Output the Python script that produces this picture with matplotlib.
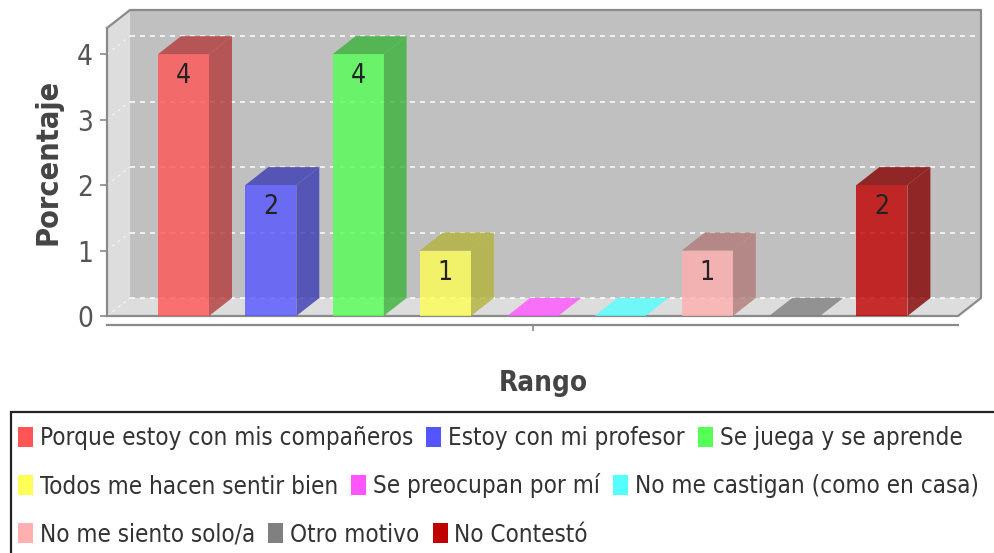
import matplotlib
matplotlib.use("Agg")
import matplotlib.pyplot as plt
from matplotlib.patches import Polygon, Rectangle
from matplotlib.lines import Line2D
from matplotlib.colors import to_rgb

# ---------------- data ----------------
categories = ["Porque estoy con mis compañeros", "Estoy con mi profesor", "Se juega y se aprende",
              "Todos me hacen sentir bien", "Se preocupan por mí", "No me castigan (como en casa)",
              "No me siento solo/a", "Otro motivo", "No Contestó"]
values = [4, 2, 4, 1, 0, 0, 1, 0, 2]
series_colors = ["#FF5555", "#5555FF", "#55FF55", "#FFFF55", "#FF55FF", "#55FFFF",
                 "#FFAFAF", "#808080", "#C00000"]
y_ticks = [0, 1, 2, 3, 4]
x_axis_label = "Rango"
y_axis_label = "Porcentaje"

FONT = dict(family="DejaVu Sans", stretch="condensed")

W, H = 994, 553
fig = plt.figure(figsize=(W / 100, H / 100), dpi=100)
fig.patch.set_facecolor("white")

# front plane of the 3D plot, in pixels
L, R, B, T = 107, 958, 316, 28
ax = fig.add_axes([L / W, 1 - B / H, (R - L) / W, (B - T) / H])
ax.patch.set_visible(False)

n = len(values)
ymax = max(values) * 1.1
step_px = 87.3
first_px = 183.5
xa = -(first_px - L) / step_px
xb = xa + (R - L) / step_px
ax.set_xlim(xa, xb)
ax.set_ylim(0, ymax)

DX, DY = 23, 18
dxd = DX / step_px
dyd = DY * ymax / (B - T)

def add_poly(pts, color, z, alpha=1.0, lw=0, ec="none"):
    p = Polygon(pts, closed=True, facecolor=color, edgecolor=ec, lw=lw,
                alpha=alpha, transform=ax.transData, clip_on=False, zorder=z)
    ax.add_patch(p)

# walls
add_poly([(xa + dxd, dyd), (xb + dxd, dyd), (xb + dxd, ymax + dyd), (xa + dxd, ymax + dyd)], "#C0C0C0", 0.1)
add_poly([(xa, 0), (xa + dxd, dyd), (xa + dxd, ymax + dyd), (xa, ymax)], "#DDDDDD", 0.2)
add_poly([(xa, 0), (xb, 0), (xb + dxd, dyd), (xa + dxd, dyd)], "#DDDDDD", 0.2)

# gridlines on back wall and left wall
for t in y_ticks:
    ax.add_line(Line2D([xa + dxd, xb + dxd], [t + dyd, t + dyd], color="white", lw=1.2,
                       ls=(0, (3, 3)), alpha=0.9, zorder=0.3, clip_on=False))
    ax.add_line(Line2D([xa, xa + dxd], [t, t + dyd], color="white", lw=1.0,
                       ls=(0, (2, 3)), alpha=0.6, zorder=0.3, clip_on=False))

# outline of the 3D box
ax.add_line(Line2D([xa, xa + dxd, xb + dxd, xb + dxd, xb, xa],
                   [ymax, ymax + dyd, ymax + dyd, dyd, 0, 0],
                   color="#8A8A8A", lw=1.6, zorder=0.5, clip_on=False))

# bars
bw = 51 / step_px
def darker(c):
    r, g, b = to_rgb(c)
    return (r * 0.7, g * 0.7, b * 0.7)

for i, (v, c) in enumerate(zip(values, series_colors)):
    x0 = i - bw / 2
    x1 = x0 + bw
    if v > 0:
        ax.bar(i, v, width=bw, color=c, alpha=0.8, lw=0, zorder=2)
        add_poly([(x1, 0), (x1 + dxd, dyd), (x1 + dxd, v + dyd), (x1, v)], darker(c), 1.9, alpha=0.8)
        add_poly([(x0, v), (x0 + dxd, v + dyd), (x1 + dxd, v + dyd), (x1, v)], darker(c), 1.9, alpha=0.8)
        ax.annotate(str(v), (i, v), xytext=(0, -9), textcoords="offset pixels",
                    ha="center", va="top", fontsize=19, color="#222222", zorder=3, **FONT)
    else:
        add_poly([(x0, 0), (x0 + dxd, dyd), (x1 + dxd, dyd), (x1, 0)], c, 1.9, alpha=0.8)

# axes styling
for s in ["top", "right"]:
    ax.spines[s].set_visible(False)
ax.spines["left"].set_color("#8A8A8A")
ax.spines["left"].set_linewidth(1.6)
ax.spines["bottom"].set_position(("outward", 6.5))
ax.spines["bottom"].set_color("#8A8A8A")
ax.spines["bottom"].set_linewidth(1.6)
ax.set_yticks(y_ticks)
ax.set_yticklabels([str(t) for t in y_ticks], fontsize=20, color="#555555", **FONT)
ax.tick_params(axis="y", direction="out", length=5, width=1.2, color="#8A8A8A", pad=5)
ax.set_xticks([(xa + xb) / 2])
ax.set_xticklabels([""])
ax.tick_params(axis="x", direction="out", length=4, width=1.2, color="#8A8A8A")

ax.set_xlabel(x_axis_label, fontsize=20, fontweight="bold", color="#444444", **FONT)
ax.xaxis.set_label_coords((543 - L) / (R - L), (B - 383) / (B - T))
ax.xaxis.label.set_va("center")
ax.set_ylabel(y_axis_label, fontsize=22, fontweight="bold", color="#444444", **FONT)
ax.yaxis.set_label_coords((48 - L) / (R - L), (B - 162) / (B - T))
ax.yaxis.label.set_va("center")
ax.yaxis.label.set_ha("center")

# legend (flow layout, 3 items per row)
fig.patches.append(Rectangle((11 / W, 1 - 560 / H), (1005 - 11) / W, (560 - 412) / H,
                             transform=fig.transFigure, facecolor="white",
                             edgecolor="#222222", lw=1.6, zorder=5))
renderer = fig.canvas.get_renderer()
row_y = [437, 485, 533]
for r in range(3):
    x = 18
    yc = row_y[r]
    for k in range(3):
        i = r * 3 + k
        fig.patches.append(Rectangle((x / W, 1 - (yc + 10) / H), 15 / W, 20 / H,
                                     transform=fig.transFigure, facecolor=series_colors[i],
                                     edgecolor="none", zorder=6))
        t = fig.text((x + 22) / W, 1 - (yc + 8.5) / H, categories[i], ha="left", va="baseline",
                     fontsize=17.4, color="#333333", zorder=7, **FONT)
        bb = t.get_window_extent(renderer)
        x = bb.x1 + 13

fig.savefig("out.png", dpi=100)
